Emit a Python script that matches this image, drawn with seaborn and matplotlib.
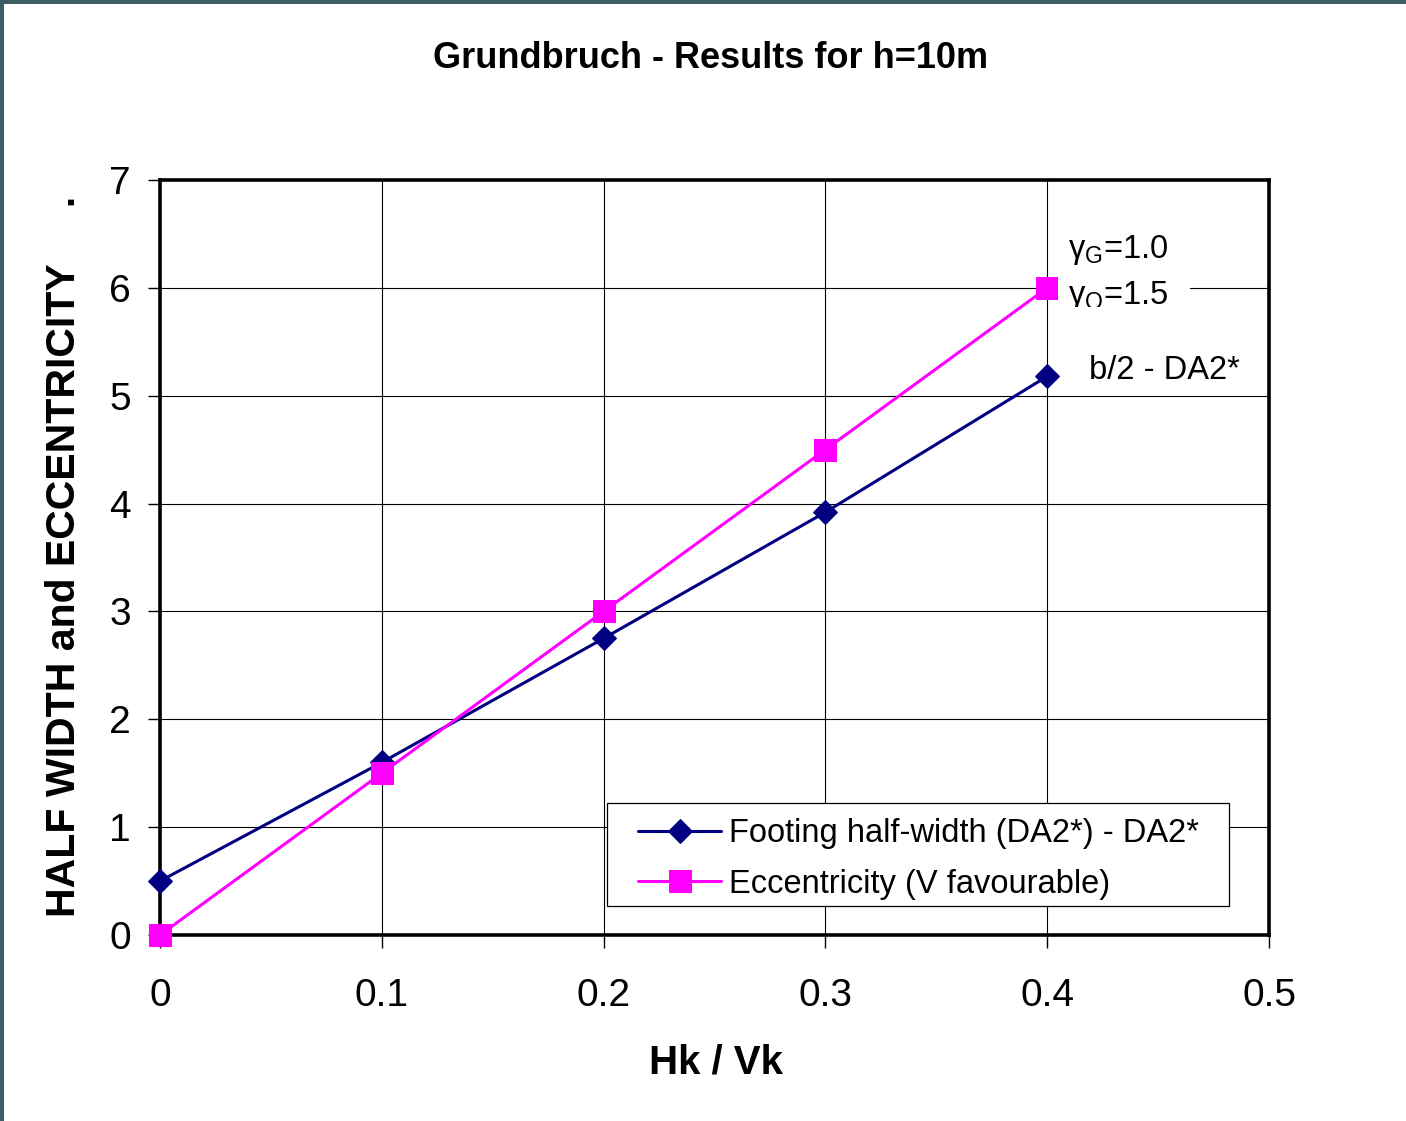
import matplotlib
matplotlib.use("Agg")
import matplotlib.pyplot as plt
import seaborn as sns
import pandas as pd
from matplotlib.patches import Rectangle
from matplotlib.transforms import Bbox, TransformedBbox

# ---- data ----
hk_vk = [0.0, 0.1, 0.2, 0.3, 0.4]
half_width = [0.5, 1.6, 2.75, 3.92, 5.18]
eccentricity = [0.0, 1.5, 3.0, 4.5, 6.0]
series_names = ["Footing half-width (DA2*) - DA2*", "Eccentricity (V favourable)"]
x_ticks = [0, 0.1, 0.2, 0.3, 0.4, 0.5]
x_ticklabels = ["0", "0.1", "0.2", "0.3", "0.4", "0.5"]
y_ticks = [0, 1, 2, 3, 4, 5, 6, 7]

sns.set_theme(style="ticks")
plt.rcParams['font.family'] = ['Liberation Sans', 'DejaVu Sans']
plt.rcParams['mathtext.fontset'] = 'custom'
plt.rcParams['mathtext.rm'] = 'Liberation Sans'
plt.rcParams['mathtext.it'] = 'Liberation Sans'
plt.rcParams['text.color'] = 'black'
plt.rcParams['xtick.color'] = 'black'
plt.rcParams['ytick.color'] = 'black'
plt.rcParams['axes.labelcolor'] = 'black'

fig = plt.figure(figsize=(14.06, 11.21), dpi=100)
fig.patch.set_facecolor('white')
ax = fig.add_axes([160/1406, 1-935/1121, (1269-160)/1406, (935-180)/1121])

df = pd.DataFrame({"hk": hk_vk, "hw": half_width, "ecc": eccentricity})

sns.lineplot(data=df, x="hk", y="hw", ax=ax, color="#000080", marker="D",
             markersize=12.5, markeredgecolor="#000080", linewidth=2.2,
             label=series_names[0], zorder=3, clip_on=False)
sns.lineplot(data=df, x="hk", y="ecc", ax=ax, color="#FF00FF", marker="s",
             markersize=16, markeredgecolor="#FF00FF", linewidth=2.2,
             label=series_names[1], zorder=3.1, clip_on=False)

ax.set_xlim(0, 0.5)
ax.set_ylim(0, 7)
ax.set_xticks(x_ticks)
ax.set_xticklabels(x_ticklabels)
ax.set_yticks(y_ticks)
ax.tick_params(axis='both', labelsize=28, labelcolor='black', length=9, width=1)
ax.tick_params(axis='x', pad=22)
ax.tick_params(axis='y', pad=12)
for t in ax.xaxis.get_ticklines() + ax.yaxis.get_ticklines():
    t.set_color('#555555')

ax.grid(True, color='black', linewidth=0.8)
ax.set_axisbelow(True)
for sp in ax.spines.values():
    sp.set_visible(True)
    sp.set_linewidth(2.6)
    sp.set_color('black')

ax.set_xlabel("")
ax.set_ylabel("")

# legend with custom frame
frame = Rectangle((0.403, 0.0384), 0.964-0.403, 0.1748-0.0384, transform=ax.transAxes,
                  facecolor='white', edgecolor='black', linewidth=0.9, zorder=4.5)
ax.add_patch(frame)
leg = ax.legend(loc='upper left', bbox_to_anchor=(0.431, 0.155), frameon=False,
                fontsize=23.5, borderpad=0, borderaxespad=0, handlelength=2.55,
                handletextpad=0.25, labelspacing=0.6)
leg.set_zorder(5)
for txt in leg.get_texts():
    txt.set_color('black')

# annotation box with gamma factors (clipped at its lower edge)
bx0, by0, bx1, by1 = 0.405, 5.825, 0.4644, 6.62
box_patch = Rectangle((bx0, by0), bx1-bx0, by1-by0, transform=ax.transData,
                      facecolor='white', edgecolor='none', zorder=3.5)
ax.add_patch(box_patch)
clip_box = TransformedBbox(Bbox([[bx0, by0], [bx1, by1]]), ax.transData)
t1 = ax.text(0.4094, 6.28, "γ$_{\\mathrm{G}}$=1.0", fontsize=23.5, va='baseline', ha='left', zorder=3.6)
t2 = ax.text(0.4094, 5.84, "γ$_{\\mathrm{Q}}$=1.5", fontsize=23.5, va='baseline', ha='left', zorder=3.6)
for t in (t1, t2):
    t.set_clip_box(clip_box)
    t.set_clip_on(True)

ax.text(0.4188, 5.23, "b/2 - DA2*", fontsize=23.5, va='center', ha='left', zorder=3.6)

# titles and axis labels
fig.text(711/1406, 1-58/1121, "Grundbruch - Results for h=10m", fontsize=26,
         fontweight='bold', ha='center', va='center')
fig.text(716/1406, 1-1062/1121, "Hk / Vk", fontsize=29, fontweight='bold',
         ha='center', va='center')
fig.text(64/1406, 1-556/1121, "HALF WIDTH and ECCENTRICITY     .", fontsize=29.5,
         fontweight='bold', ha='center', va='center', rotation=90)

# figure border (left & top)
fig.add_artist(Rectangle((0, 0), 4/1406, 1, transform=fig.transFigure,
                         facecolor='#3c5d64', edgecolor='none'))
fig.add_artist(Rectangle((0, 1-4/1121), 1, 4/1121, transform=fig.transFigure,
                         facecolor='#3c5d64', edgecolor='none'))

fig.savefig("out.png", dpi=100)
